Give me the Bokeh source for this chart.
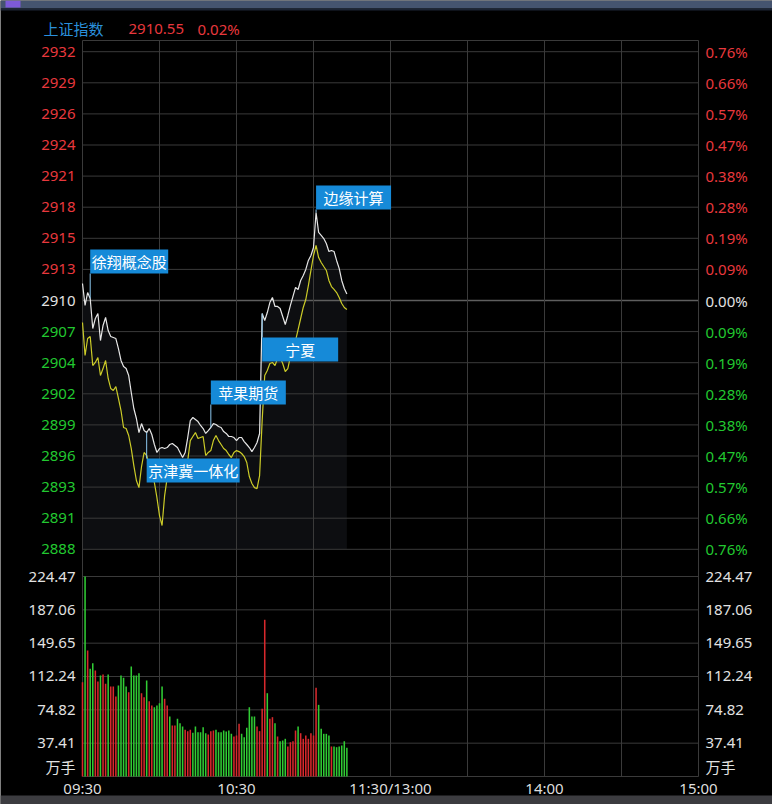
from bokeh.plotting import figure
from bokeh.models import Range1d, ColumnDataSource
from bokeh.core.properties import value
from bokeh.embed import file_html
from bokeh.resources import INLINE

# ---------------- data ----------------
index_name = "上证指数"
last_price = "2910.55"
last_change = "0.02%"
prev_close = 2909.97
max_pct = 0.76

price_tick_labels = ["2932", "2929", "2926", "2924", "2921", "2918", "2915", "2913", "2910",
                     "2907", "2904", "2902", "2899", "2896", "2893", "2891", "2888"]
pct_tick_labels = ["0.76%", "0.66%", "0.57%", "0.47%", "0.38%", "0.28%", "0.19%", "0.09%", "0.00%",
                   "0.09%", "0.19%", "0.28%", "0.38%", "0.47%", "0.57%", "0.66%", "0.76%"]
vol_tick_values = [37.41, 74.82, 112.24, 149.65, 187.06, 224.47]
vol_tick_labels = ["37.41", "74.82", "112.24", "149.65", "187.06", "224.47"]
vol_unit = "万手"
time_tick_minutes = [0, 60, 120, 180, 240]
time_tick_labels = ["09:30", "10:30", "11:30/13:00", "14:00", "15:00"]
grid_minutes = [0, 30, 60, 90, 120, 150, 180, 210, 240]

minutes = list(range(104))
price = [2911.48, 2909.53, 2910.68, 2910.15, 2907.48, 2908.37, 2908.81, 2906.41, 2907.75, 2908.46,
         2907.30, 2906.77, 2906.68, 2906.59, 2905.70, 2904.64, 2904.10, 2903.92, 2903.30, 2901.79,
         2900.37, 2899.48, 2898.23, 2899.03, 2898.41, 2898.23, 2898.59, 2898.06, 2897.17, 2896.46,
         2896.81, 2896.90, 2896.81, 2896.90, 2897.17, 2897.26, 2897.08, 2896.90, 2896.46, 2896.01,
         2896.46, 2897.79, 2899.30, 2899.57, 2899.39, 2899.21, 2898.86, 2898.59, 2898.15, 2898.41,
         2898.68, 2899.03, 2898.95, 2898.77, 2898.68, 2898.32, 2898.15, 2897.88, 2897.88, 2897.79,
         2897.52, 2897.79, 2897.79, 2897.43, 2897.17, 2896.90, 2896.54, 2896.90, 2897.35, 2898.15,
         2908.81, 2908.19, 2908.90, 2909.79, 2910.24, 2909.44, 2909.44, 2909.26, 2908.55, 2907.84,
         2908.64, 2909.53, 2910.33, 2911.13, 2910.95, 2911.75, 2912.19, 2912.73, 2913.53, 2913.97,
         2914.68, 2917.79, 2916.02, 2915.75, 2915.48, 2915.04, 2914.33, 2914.42, 2914.33, 2913.53,
         2912.82, 2911.75, 2911.04, 2910.55]
avg_line = [2908.01, 2905.08, 2906.59, 2906.77, 2904.19, 2904.46, 2904.90, 2903.30, 2903.92, 2904.64,
            2903.04, 2902.15, 2901.97, 2902.32, 2901.26, 2900.19, 2898.68, 2898.59, 2897.97, 2896.81,
            2895.30, 2893.97, 2893.34, 2895.21, 2896.46, 2896.19, 2895.30, 2894.41, 2893.79, 2892.45,
            2890.85, 2889.97, 2892.63, 2894.23, 2894.86, 2895.12, 2895.39, 2895.48, 2895.12, 2894.86,
            2895.21, 2895.74, 2897.52, 2897.88, 2898.23, 2897.70, 2897.79, 2897.88, 2896.19, 2896.46,
            2896.63, 2897.52, 2897.97, 2897.52, 2897.17, 2896.81, 2896.63, 2896.28, 2896.01, 2896.46,
            2896.63, 2896.54, 2896.37, 2896.10, 2895.57, 2894.32, 2893.70, 2893.34, 2893.25, 2894.41,
            2899.30, 2903.30, 2903.75, 2904.37, 2904.46, 2904.19, 2904.81, 2904.90, 2904.37, 2903.66,
            2903.92, 2904.99, 2905.79, 2906.41, 2907.39, 2908.37, 2909.35, 2910.06, 2911.30, 2912.64,
            2913.97, 2914.86, 2913.79, 2913.35, 2912.99, 2912.64, 2911.75, 2911.21, 2910.95, 2910.68,
            2910.24, 2909.70, 2909.35, 2909.17]
volume = [105.8, 224.47, 141.4, 120.8, 127.2, 119.0, 106.6, 113.4, 114.5, 104.0,
          114.5, 101.0, 101.0, 89.8, 102.1, 113.4, 110.8, 101.0, 94.6, 123.5,
          113.4, 113.4, 116.0, 93.5, 89.0, 107.7, 84.5, 79.7, 77.8, 79.7,
          82.3, 101.0, 87.2, 79.7, 67.3, 57.2, 57.2, 64.8, 59.8, 56.1,
          52.4, 50.9, 52.4, 49.0, 56.1, 49.7, 49.7, 55.3, 48.6, 47.1,
          50.9, 51.6, 52.4, 49.7, 49.7, 51.6, 50.5, 51.6, 47.9, 44.9,
          46.0, 59.1, 47.9, 44.1, 54.6, 77.8, 67.3, 67.3, 56.1, 50.9,
          76.0, 175.9, 93.5, 64.8, 66.6, 59.8, 44.9, 39.6, 40.4, 42.3,
          33.7, 38.5, 39.6, 51.6, 56.1, 48.6, 42.3, 46.0, 42.3, 48.6,
          46.0, 99.6, 80.4, 53.5, 47.9, 47.9, 46.0, 33.7, 33.7, 32.9,
          33.7, 34.8, 39.6, 32.2]
vol_side = list("rgrggrrgrr" "grrrggggrg" "gggrrgrrgg" "ggrrgrrggg" "rrrggggggr"
                "rrgggggggr" "rrggggggrr" "rrgrrgrggg" "rrrrgrrrrr" "rrgggggrgg" "gggg")

event_minutes = [3, 25, 50, 70, 91]
event_labels = ["徐翔概念股", "京津冀一体化", "苹果期货", "宁夏", "边缘计算"]

# ---------------- layout / style ----------------
W, H = 772, 804
PX_LEFT, PX_RIGHT = 82, 698
SESSION_MIN = 240
PX_FRAME_TOP = 40
PX_PRICE_TOP, PX_PRICE_BOT = 51.2, 548.8
PX_VOL_ZERO, PX_VOL_TOP = 776, 576

ev_side = [1, -1, 1, -1, 1]          # 1 = box above point, -1 = below
ev_gap = [25, 26, 23, 24, 3]          # px between point and box
ev_box_w = [78, 93, 75, 76, 75]       # px
BOX_H = 24

RED = "#e8383d"
GREEN = "#22c830"
WHITE = "#e2e2e2"
GRID = "#3a3a3a"
NUM_FONT = value("Noto Sans")
CJK_FONT = value("Noto Sans CJK SC")
FS = value("15px")

ppm = (PX_RIGHT - PX_LEFT) / SESSION_MIN


def mx(px):
    return (px - PX_LEFT) / ppm


price_top = prev_close * (1 + max_pct / 100)
price_bot = prev_close * (1 - max_pct / 100)
upp = (price_top - price_bot) / (PX_PRICE_BOT - PX_PRICE_TOP)


def py(px):
    return price_top + (PX_PRICE_TOP - px) * upp


vupp = vol_tick_values[-1] / (PX_VOL_ZERO - PX_VOL_TOP)


def vy(px):
    return (PX_VOL_ZERO - px) * vupp


p = figure(width=W, height=H, x_range=Range1d(mx(0), mx(W)), y_range=Range1d(py(H), py(0)),
           output_backend="svg", toolbar_location=None, x_axis_location=None, y_axis_location=None,
           min_border=0, background_fill_color="#000000", border_fill_color="#000000",
           outline_line_color=None)
p.extra_y_ranges = {"vol": Range1d(vy(H), vy(0))}
p.grid.visible = False

# window strips
p.quad(left=[mx(0)], right=[mx(W)], top=[py(0)], bottom=[py(8)], fill_color="#45546f", line_color=None)
p.quad(left=[mx(0)], right=[mx(W)], top=[py(8)], bottom=[py(10)], fill_color="#1c2434", line_color=None)
p.quad(left=[mx(5)], right=[mx(20)], top=[py(0)], bottom=[py(7)], fill_color="#7d5ad8", line_color=None)
p.quad(left=[mx(0)], right=[mx(W)], top=[py(795)], bottom=[py(H)], fill_color="#3c3c40", line_color=None)

# area under the price line
p.varea(x=minutes, y1=price, y2=[price_bot] * len(minutes), fill_color="#9aa6c0", fill_alpha=0.085)

# grid
price_ticks = [prev_close * (1 + max_pct / 100 * k / 8) for k in range(8, -9, -1)]
p.segment(x0=[0] * len(price_ticks), x1=[SESSION_MIN] * len(price_ticks), y0=price_ticks, y1=price_ticks,
          line_color=GRID, line_width=1)
p.segment(x0=[0], x1=[SESSION_MIN], y0=[prev_close], y1=[prev_close], line_color="#5e5e5e", line_width=1.5)
p.segment(x0=[0], x1=[SESSION_MIN], y0=[py(PX_FRAME_TOP)], y1=[py(PX_FRAME_TOP)], line_color=GRID)
vgrid = [0] + vol_tick_values
p.segment(x0=[0] * len(vgrid), x1=[SESSION_MIN] * len(vgrid), y0=vgrid, y1=vgrid,
          line_color=GRID, y_range_name="vol")
p.segment(x0=grid_minutes, x1=grid_minutes, y0=[py(PX_VOL_ZERO)] * len(grid_minutes),
          y1=[py(PX_FRAME_TOP)] * len(grid_minutes), line_color=GRID)

# volume bars
bar_colors = ["#d8282c" if s == "r" else "#30cc34" for s in vol_side]
p.vbar(x=minutes, top=volume, bottom=0, width=0.6, fill_color=bar_colors, line_color=None,
       y_range_name="vol")

# lines
p.line(minutes, avg_line, line_color="#cccc28", line_width=1.2)
p.line(minutes, price, line_color="#e6e6e6", line_width=1.2)

# event tags
ev_price = [price[m] for m in event_minutes]
ev_end = [ev_price[i] + ev_side[i] * ev_gap[i] * upp for i in range(len(event_minutes))]
ev_cx = [event_minutes[i] + (ev_box_w[i] / 2) / ppm for i in range(len(event_minutes))]
ev_cy = [ev_price[i] + ev_side[i] * (ev_gap[i] + BOX_H / 2) * upp for i in range(len(event_minutes))]
p.segment(x0=event_minutes, x1=event_minutes, y0=ev_price, y1=ev_end, line_color="#8cc8f0", line_width=1)
p.rect(x=ev_cx, y=ev_cy, width=ev_box_w, height=BOX_H, width_units="screen", height_units="screen",
       fill_color="#168ad8", line_color=None)
p.text(x=ev_cx, y=ev_cy, text=event_labels, text_align="center", text_baseline="middle",
       text_color="#ffffff", text_font=CJK_FONT, text_font_size=FS)

# price / percent tick labels
label_colors = [RED if v > prev_close + 1e-6 else (GREEN if v < prev_close - 1e-6 else WHITE) for v in price_ticks]
src_p = ColumnDataSource(dict(y=price_ticks, lab=price_tick_labels, pct=pct_tick_labels, c=label_colors,
                              xl=[mx(75)] * len(price_ticks), xr=[mx(705)] * len(price_ticks)))
p.text(x="xl", y="y", text="lab", source=src_p, text_align="right", text_baseline="middle",
       text_color="c", text_font=NUM_FONT, text_font_size=FS)
p.text(x="xr", y="y", text="pct", source=src_p, text_align="left", text_baseline="middle",
       text_color="c", text_font=NUM_FONT, text_font_size=FS)

# volume tick labels
n = len(vol_tick_values)
p.text(x=[mx(75)] * n, y=vol_tick_values, text=vol_tick_labels, text_align="right", text_baseline="middle",
       text_color=WHITE, text_font=NUM_FONT, text_font_size=FS, y_range_name="vol")
p.text(x=[mx(705)] * n, y=vol_tick_values, text=vol_tick_labels, text_align="left", text_baseline="middle",
       text_color=WHITE, text_font=NUM_FONT, text_font_size=FS, y_range_name="vol")
p.text(x=[mx(75)], y=[vy(766)], text=[vol_unit], text_align="right", text_baseline="middle",
       text_color=WHITE, text_font=CJK_FONT, text_font_size=FS, y_range_name="vol")
p.text(x=[mx(705)], y=[vy(766)], text=[vol_unit], text_align="left", text_baseline="middle",
       text_color=WHITE, text_font=CJK_FONT, text_font_size=FS, y_range_name="vol")

# time labels
p.text(x=time_tick_minutes, y=[py(787.5)] * len(time_tick_minutes), text=time_tick_labels,
       text_align="center", text_baseline="middle", text_color="#dedede", text_font=NUM_FONT, text_font_size=FS)

# header
p.text(x=[mx(43)], y=[py(28)], text=[index_name], text_align="left", text_baseline="middle",
       text_color="#2a90dc", text_font=CJK_FONT, text_font_size=FS)
p.text(x=[mx(128), mx(197)], y=[py(28), py(28)], text=[last_price, last_change], text_align="left",
       text_baseline="middle", text_color=RED, text_font=NUM_FONT, text_font_size=FS)

open("out.html", "w").write(file_html(p, INLINE))
